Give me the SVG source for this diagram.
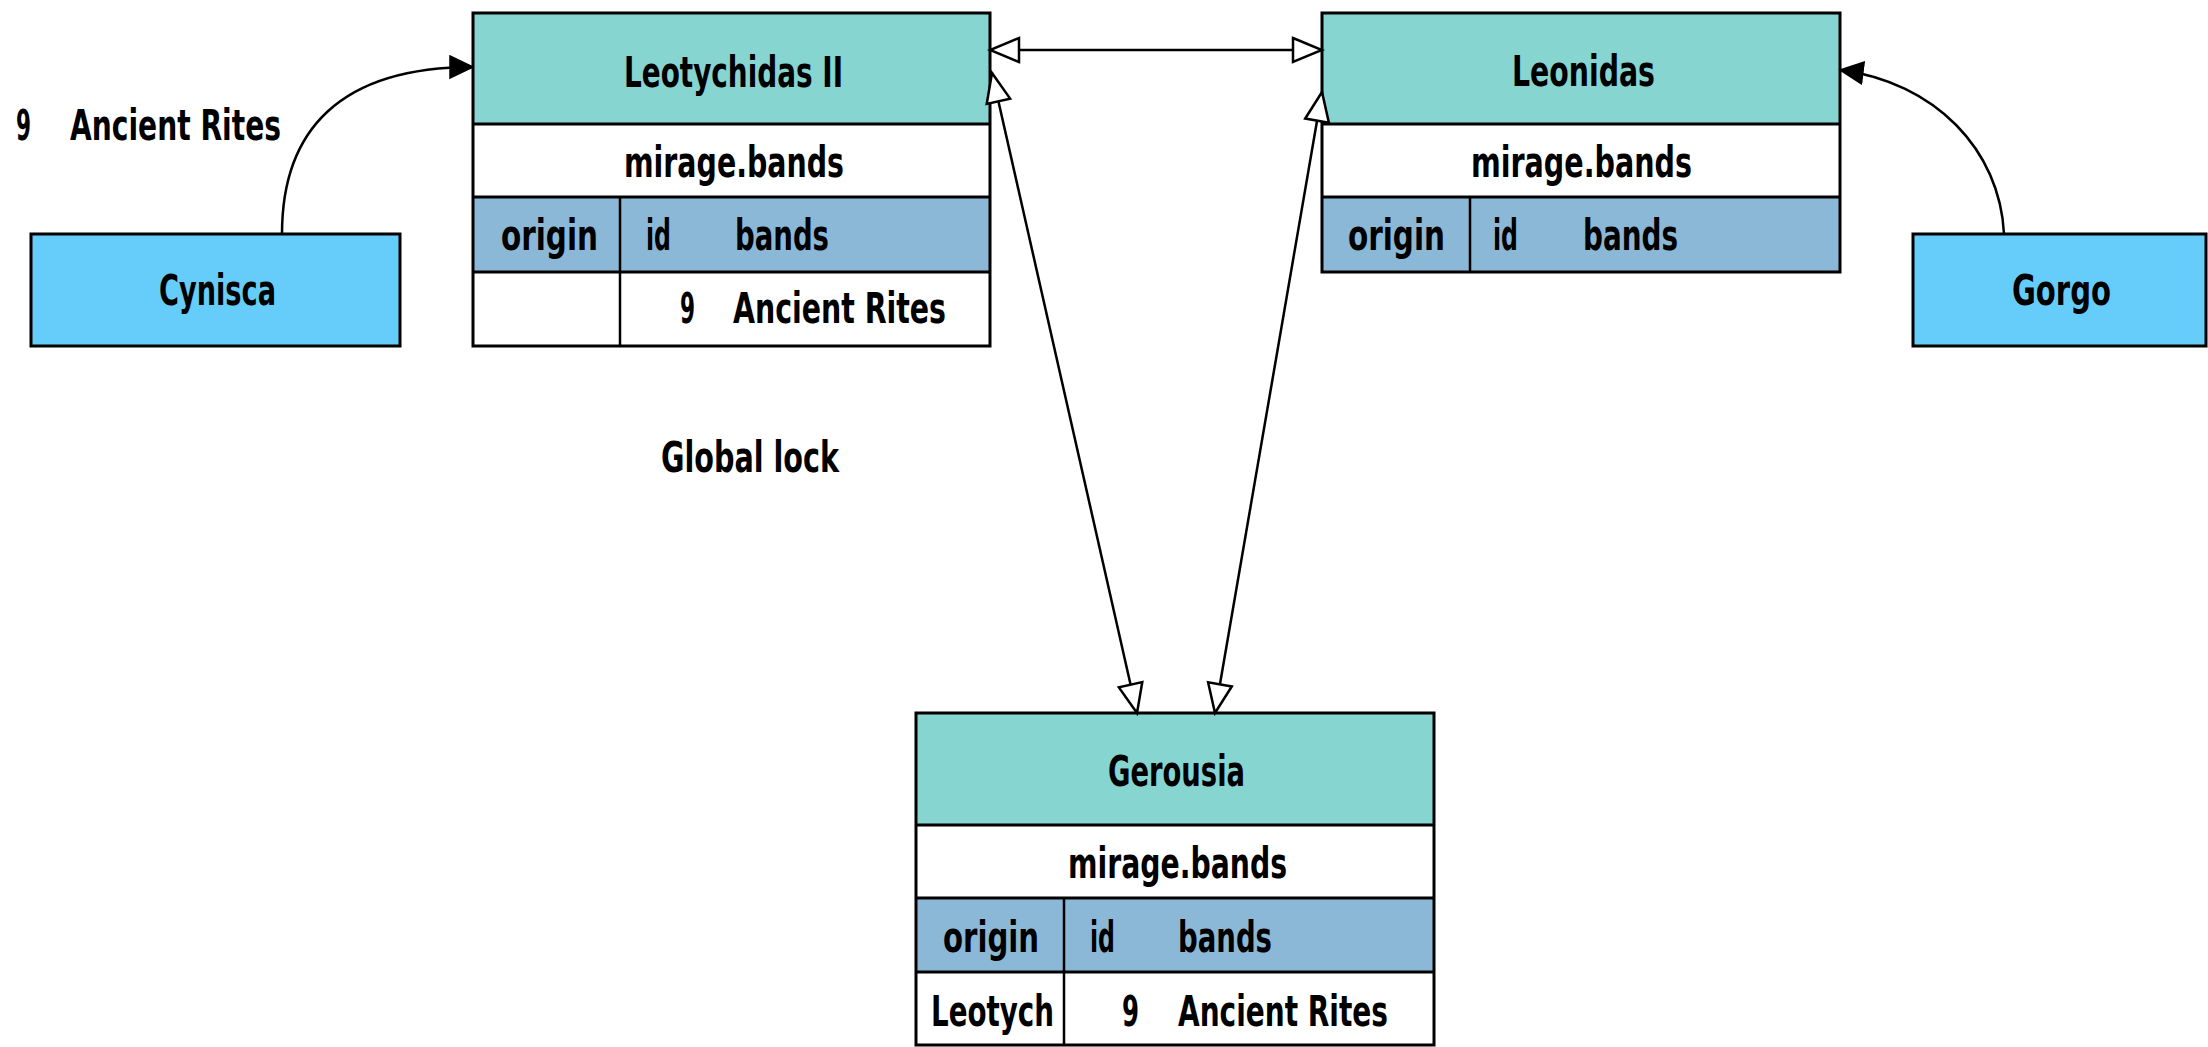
<svg xmlns="http://www.w3.org/2000/svg" width="2208" height="1047" viewBox="0 0 2208 1047">
<style>
text{font-family:"Ubuntu Condensed","DejaVu Sans Condensed","Liberation Sans Narrow","Roboto Condensed","Liberation Sans",sans-serif;font-size:43px;font-weight:bold;fill:#000}
.hdr{fill:#86d5d1}
.col{fill:#8ab8d6}
.row{fill:#fff}
.node{fill:#66cdfb;stroke:#000;stroke-width:3}
.frame{fill:none;stroke:#000;stroke-width:3}
.sep{stroke:#000;stroke-width:3}
.div{stroke:#000;stroke-width:2.5}
.edge{fill:none;stroke:#000;stroke-width:2.5}
</style>
<defs>
<marker id="hollow" markerUnits="userSpaceOnUse" markerWidth="34" markerHeight="30" refX="31" refY="14" orient="auto-start-reverse">
<path d="M2,2 L31,14 L2,26 Z" fill="#fff" stroke="#000" stroke-width="2.5"/>
</marker>
<marker id="filled" markerUnits="userSpaceOnUse" markerWidth="28" markerHeight="26" refX="24" refY="12" orient="auto">
<path d="M1,1 L24,12 L1,23 Z" fill="#000" stroke="#000" stroke-width="1.5"/>
</marker>
</defs>

<g id="leotychidas">
<rect x="473" y="13" width="517" height="111" class="hdr"/>
<rect x="473" y="124" width="517" height="73" class="row"/>
<rect x="473" y="197" width="517" height="75" class="col"/>
<rect x="473" y="272" width="517" height="74" class="row"/>
<line x1="473" y1="124" x2="990" y2="124" class="sep"/>
<line x1="473" y1="197" x2="990" y2="197" class="sep"/>
<line x1="473" y1="272" x2="990" y2="272" class="sep"/>
<line x1="620" y1="197" x2="620" y2="346" class="div"/>
<rect x="473" y="13" width="517" height="333" class="frame"/>
<text x="624" y="87" textLength="219" lengthAdjust="spacingAndGlyphs">Leotychidas II</text>
<text x="624" y="177" textLength="220" lengthAdjust="spacingAndGlyphs">mirage.bands</text>
<text x="501" y="250" textLength="97" lengthAdjust="spacingAndGlyphs">origin</text>
<text x="646" y="250" textLength="25" lengthAdjust="spacingAndGlyphs">id</text>
<text x="735" y="250" textLength="94" lengthAdjust="spacingAndGlyphs">bands</text>
<text x="680" y="323" textLength="15" lengthAdjust="spacingAndGlyphs">9</text>
<text x="733" y="323" textLength="213" lengthAdjust="spacingAndGlyphs">Ancient Rites</text>
</g>

<g id="leonidas">
<rect x="1322" y="13" width="518" height="111" class="hdr"/>
<rect x="1322" y="124" width="518" height="73" class="row"/>
<rect x="1322" y="197" width="518" height="75" class="col"/>
<line x1="1322" y1="124" x2="1840" y2="124" class="sep"/>
<line x1="1322" y1="197" x2="1840" y2="197" class="sep"/>
<line x1="1470" y1="197" x2="1470" y2="272" class="div"/>
<rect x="1322" y="13" width="518" height="259" class="frame"/>
<text x="1512" y="86" textLength="143" lengthAdjust="spacingAndGlyphs">Leonidas</text>
<text x="1471" y="177" textLength="221" lengthAdjust="spacingAndGlyphs">mirage.bands</text>
<text x="1348" y="250" textLength="97" lengthAdjust="spacingAndGlyphs">origin</text>
<text x="1493" y="250" textLength="25" lengthAdjust="spacingAndGlyphs">id</text>
<text x="1583" y="250" textLength="95" lengthAdjust="spacingAndGlyphs">bands</text>
</g>

<g id="gerousia">
<rect x="916" y="713" width="518" height="112" class="hdr"/>
<rect x="916" y="825" width="518" height="73" class="row"/>
<rect x="916" y="898" width="518" height="74" class="col"/>
<rect x="916" y="972" width="518" height="73" class="row"/>
<line x1="916" y1="825" x2="1434" y2="825" class="sep"/>
<line x1="916" y1="898" x2="1434" y2="898" class="sep"/>
<line x1="916" y1="972" x2="1434" y2="972" class="sep"/>
<line x1="1064" y1="898" x2="1064" y2="1045" class="div"/>
<rect x="916" y="713" width="518" height="332" class="frame"/>
<text x="1108" y="786" textLength="137" lengthAdjust="spacingAndGlyphs">Gerousia</text>
<text x="1068" y="878" textLength="219" lengthAdjust="spacingAndGlyphs">mirage.bands</text>
<text x="943" y="952" textLength="96" lengthAdjust="spacingAndGlyphs">origin</text>
<text x="1090" y="952" textLength="25" lengthAdjust="spacingAndGlyphs">id</text>
<text x="1178" y="952" textLength="94" lengthAdjust="spacingAndGlyphs">bands</text>
<text x="931" y="1026" textLength="123" lengthAdjust="spacingAndGlyphs">Leotych</text>
<text x="1122" y="1026" textLength="17" lengthAdjust="spacingAndGlyphs">9</text>
<text x="1178" y="1026" textLength="210" lengthAdjust="spacingAndGlyphs">Ancient Rites</text>
</g>

<g id="cynisca">
<rect x="31" y="234" width="369" height="112" class="node"/>
<text x="159" y="305" textLength="117" lengthAdjust="spacingAndGlyphs">Cynisca</text>
</g>

<g id="gorgo">
<rect x="1913" y="234" width="293" height="112" class="node"/>
<text x="2012" y="305" textLength="99" lengthAdjust="spacingAndGlyphs">Gorgo</text>
</g>

<g id="connectors">
<path d="M282,234 C282,130 340,67 473,67" class="edge" marker-end="url(#filled)"/>
<path d="M2004,234 C2000,150 1935,82 1840,70" class="edge" marker-end="url(#filled)"/>
<line x1="990" y1="50" x2="1322" y2="50" class="edge" marker-start="url(#hollow)" marker-end="url(#hollow)"/>
<line x1="992" y1="73" x2="1137" y2="713" class="edge" marker-start="url(#hollow)" marker-end="url(#hollow)"/>
<line x1="1322" y1="92" x2="1215" y2="713" class="edge" marker-start="url(#hollow)" marker-end="url(#hollow)"/>
</g>

<g id="labels">
<text x="16" y="140" textLength="15" lengthAdjust="spacingAndGlyphs">9</text>
<text x="70" y="140" textLength="211" lengthAdjust="spacingAndGlyphs">Ancient Rites</text>
<text x="661" y="472" textLength="178" lengthAdjust="spacingAndGlyphs">Global lock</text>
</g>
</svg>
